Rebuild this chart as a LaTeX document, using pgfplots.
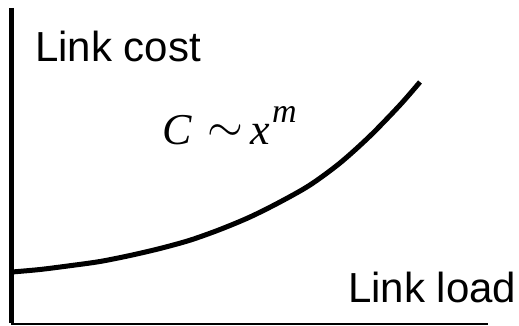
\documentclass[border=0pt]{standalone}
\usepackage{fontspec}
\setmainfont{Liberation Sans}
\newfontfamily\timesf{Liberation Serif}
\usepackage{graphicx}
\usepackage{pgfplots}
\pgfplotsset{compat=1.18}
\begin{document}
\begin{tikzpicture}
\useasboundingbox (0,0) rectangle (519pt,326pt);
\begin{axis}[
  anchor=south west, at={(0,0)},
  scale only axis, width=519pt, height=326pt,
  xmin=0, xmax=519, ymin=0, ymax=326,
  hide axis, clip=false]
\draw[line width=4.5pt] (axis cs:11.5,318) -- (axis cs:11.5,3);
\draw[line width=2pt] (axis cs:11,1.5) -- (axis cs:488,1.5);
\addplot[black, line width=5pt, smooth, line cap=butt] coordinates {
 (12,54) (40,56.5) (70,60.3) (100,64.5) (130,70.5) (160,77.5) (190,85.8) (220,96.5)
 (250,109) (280,124) (310,141) (340,163) (370,190) (400,221) (420,244)
};
\node[anchor=base west, inner sep=0pt] at (axis cs:35,264) {\fontsize{42}{48}\selectfont Link cost};
\node[anchor=base west, inner sep=0pt] at (axis cs:348,23) {\fontsize{42}{48}\selectfont Link load};
\node[anchor=base west, inner sep=0pt] at (axis cs:162,181) {\timesf\fontsize{44}{50}\selectfont\itshape C};
\node[anchor=center, inner sep=0pt] at (axis cs:225,193) {\scalebox{4.6}{$\sim$}};
\node[anchor=base west, inner sep=0pt] at (axis cs:250,181) {\timesf\fontsize{44}{50}\selectfont\itshape x};
\node[anchor=base west, inner sep=0pt] at (axis cs:272,203) {\timesf\fontsize{34}{38}\selectfont\itshape m};
\end{axis}
\end{tikzpicture}
\end{document}
